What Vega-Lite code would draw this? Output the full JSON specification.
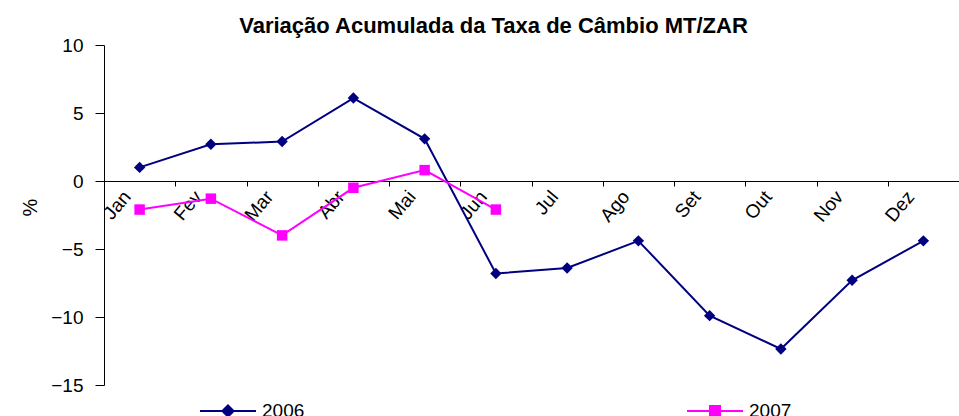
{
  "$schema": "https://vega.github.io/schema/vega-lite/v6.json",
  "width": 855,
  "height": 340,
  "autosize": {"type": "none"},
  "padding": {"left": 104, "top": 45, "right": 0, "bottom": 31},
  "background": "white",
  "config": {
    "view": {"stroke": null},
    "font": "Liberation Sans",
    "axis": {"domainColor": "#000000", "tickColor": "#000000", "labelColor": "#000000", "titleColor": "#000000", "grid": false}
  },
  "title": {
    "text": "Variação Acumulada da Taxa de Câmbio MT/ZAR",
    "font": "Liberation Sans",
    "fontSize": 22,
    "fontWeight": "bold",
    "color": "#000000",
    "anchor": "middle",
    "dx": -38,
    "offset": -2
  },
  "data": {
    "values": [
      {"month": "Jan", "year": "2006", "value": 1.0},
      {"month": "Fev", "year": "2006", "value": 2.7},
      {"month": "Mar", "year": "2006", "value": 2.9},
      {"month": "Abr", "year": "2006", "value": 6.1},
      {"month": "Mai", "year": "2006", "value": 3.1},
      {"month": "Jun", "year": "2006", "value": -6.8},
      {"month": "Jul", "year": "2006", "value": -6.4},
      {"month": "Ago", "year": "2006", "value": -4.4},
      {"month": "Set", "year": "2006", "value": -9.9},
      {"month": "Out", "year": "2006", "value": -12.35},
      {"month": "Nov", "year": "2006", "value": -7.3},
      {"month": "Dez", "year": "2006", "value": -4.4},
      {"month": "Jan", "year": "2007", "value": -2.1},
      {"month": "Fev", "year": "2007", "value": -1.3},
      {"month": "Mar", "year": "2007", "value": -4.0},
      {"month": "Abr", "year": "2007", "value": -0.5},
      {"month": "Mai", "year": "2007", "value": 0.8},
      {"month": "Jun", "year": "2007", "value": -2.1}
    ]
  },
  "encoding": {
    "x": {
      "field": "month",
      "type": "nominal",
      "sort": ["Jan", "Fev", "Mar", "Abr", "Mai", "Jun", "Jul", "Ago", "Set", "Out", "Nov", "Dez"],
      "scale": {"domain": ["Jan", "Fev", "Mar", "Abr", "Mai", "Jun", "Jul", "Ago", "Set", "Out", "Nov", "Dez"], "paddingInner": 0, "paddingOuter": 0},
      "axis": {
        "title": null,
        "orient": "bottom",
        "offset": -204,
        "labelAngle": -50,
        "labelFontSize": 19,
        "labelOffset": -13,
        "labelPadding": 7,
        "tickSize": 5,
        "tickBand": "extent",
        "domainWidth": 1,
        "labelOverlap": false
      }
    },
    "y": {
      "field": "value",
      "type": "quantitative",
      "scale": {"domain": [-15, 10], "nice": false, "zero": false},
      "axis": {
        "title": "%",
        "values": [-15, -10, -5, 0, 5, 10],
        "tickSize": 9,
        "labelPadding": 12,
        "labelFontSize": 19,
        "titleFontSize": 20,
        "titleFontWeight": "normal",
        "titleX": -74,
        "titleY": 162,
        "titleAngle": -90,
        "titleAlign": "center",
        "titleBaseline": "middle"
      }
    }
  },
  "layer": [
    {
      "mark": {"type": "line", "strokeWidth": 2},
      "encoding": {
        "color": {
          "field": "year",
          "type": "nominal",
          "scale": {"domain": ["2006", "2007"], "range": ["#000080", "#FF00FF"]},
          "legend": {
            "orient": "none",
            "legendX": 95,
            "legendY": 337,
            "direction": "horizontal",
            "title": null,
            "columnPadding": 378,
            "labelOffset": 5,
            "symbolSize": 3136,
            "symbolStrokeWidth": 2,
            "labelFontSize": 19,
            "labelColor": "#000000"
          }
        }
      }
    },
    {
      "transform": [{"filter": "datum.year === '2006'"}],
      "mark": {"type": "point", "shape": "diamond", "filled": true, "color": "#000080", "size": 130, "opacity": 1}
    },
    {
      "transform": [{"filter": "datum.year === '2007'"}],
      "mark": {"type": "point", "shape": "square", "filled": true, "color": "#FF00FF", "size": 110, "opacity": 1}
    },
    {
      "transform": [{"filter": "false"}],
      "mark": {"type": "point", "filled": true, "strokeWidth": 2, "opacity": 1},
      "encoding": {
        "color": {
          "field": "year",
          "type": "nominal",
          "scale": {"domain": ["2006", "2007"], "range": ["#000080", "#FF00FF"]},
          "legend": {
            "orient": "none",
            "legendX": 95,
            "legendY": 337,
            "direction": "horizontal",
            "title": null,
            "columnPadding": 378,
            "labelOffset": 5,
            "symbolSize": 3136,
            "symbolStrokeWidth": 2,
            "labelFontSize": 19,
            "labelColor": "#000000"
          }
        },
        "stroke": {
          "field": "year",
          "type": "nominal",
          "scale": {"domain": ["2006", "2007"], "range": ["#000080", "#FF00FF"]},
          "legend": null
        },
        "shape": {
          "field": "year",
          "type": "nominal",
          "scale": {"domain": ["2006", "2007"], "range": ["M-1,0L1,0M0,-0.2L0.2,0L0,0.2L-0.2,0Z", "M-1,0L1,0M-0.18,-0.18L0.18,-0.18L0.18,0.18L-0.18,0.18Z"]},
          "legend": null
        }
      }
    }
  ]
}
